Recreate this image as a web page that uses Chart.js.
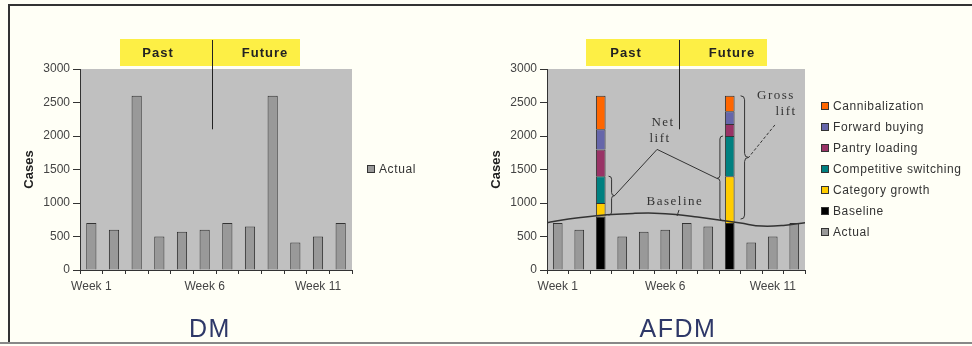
<!DOCTYPE html>
<html>
<head>
<meta charset="utf-8">
<script src="https://cdn.jsdelivr.net/npm/chart.js@4/dist/chart.umd.min.js"></script>
<style>
  body { margin: 0; background: #fffff6; width: 972px; height: 346px; overflow: hidden; position: relative; font-family: 'Liberation Sans', Arial, sans-serif; }
  #frame { position: absolute; left: 8px; top: 4px; width: 970px; height: 336px; border-top: 2px solid #333; border-left: 2px solid #333; }
  #bottomLine { position: absolute; left: 0; top: 342px; width: 972px; height: 2px; background: #888; }
  canvas { position: absolute; top: 0; }
  .legend { position: absolute; font-size: 12px; color: #333; letter-spacing: 0.6px; }
  .legend div { height: 21px; line-height: 21px; white-space: nowrap; }
  .legend span { display: inline-block; width: 6px; height: 6px; border: 1px solid #333; margin-right: 4px; vertical-align: 0px; }
  .name { position: absolute; top: 314px; font-size: 25px; color: #2e3868; letter-spacing: 1.5px; transform: translateX(-50%); }
</style>
</head>
<body>
<div id="frame"></div>
<div id="bottomLine"></div>
<canvas id="dmChart" width="480" height="346" style="left:0px"></canvas>
<canvas id="afdmChart" width="492" height="346" style="left:480px"></canvas>
<div class="legend" id="dmLegend" style="left:367px; top:159px"></div>
<div class="legend" id="afdmLegend" style="left:821px; top:96px"></div>
<div class="name" style="left:210px">DM</div>
<div class="name" style="left:678px">AFDM</div>
<script>
//! Les données.
const weekLabels = ['Week 1', 'Week 2', 'Week 3', 'Week 4', 'Week 5', 'Week 6',
  'Week 7', 'Week 8', 'Week 9', 'Week 10', 'Week 11', 'Week 12'];
const shownWeekLabels = ['Week 1', 'Week 6', 'Week 11'];

const actualDM = [700, 600, 2600, 500, 570, 600, 700, 650, 2600, 410, 500, 700];
const actualAFDM = [700, 600, null, 500, 570, 600, 700, 650, null, 410, 500, 700];

const baselineBar = [null, null, 800, null, null, null, null, null, 700, null, null, null];
const categoryGrowth = [null, null, 200, null, null, null, null, null, 700, null, null, null];
const competitiveSwitching = [null, null, 400, null, null, null, null, null, 600, null, null, null];
const pantryLoading = [null, null, 400, null, null, null, null, null, 180, null, null, null];
const forwardBuying = [null, null, 300, null, null, null, null, null, 190, null, null, null];
const cannibalization = [null, null, 500, null, null, null, null, null, 230, null, null, null];

// courbe de baseline (x = bord des semaines, 0..12)
const baselineCurveX = [0, 1, 2, 3, 4, 5, 6, 7, 8, 9, 10, 11, 12];
const baselineCurveY = [706, 760, 800, 830, 845, 848, 830, 790, 745, 700, 655, 665, 706];

const yMin = 0;
const yMax = 3000;
const yStep = 500;
//! ---------------------------------

//! Styles communs.
const sansFont = "'Liberation Sans', Arial, sans-serif";
const serifFont = "'Liberation Serif', 'Times New Roman', serif";
const actualColor = '#999999';
const edgeColor = '#333333';

const colors = {
  Baseline: '#000000',
  'Category growth': '#ffcc00',
  'Competitive switching': '#008080',
  'Pantry loading': '#993366',
  'Forward buying': '#6666aa',
  Cannibalization: '#ff6600',
  Actual: actualColor,
};
//! ---------------------------------

//! Plugins : fond gris, bandeau Past / Future.
const plotBackground = {
  id: 'plotBackground',
  beforeDraw(chart) {
    const { ctx, chartArea: a } = chart;
    ctx.save();
    ctx.fillStyle = '#c0c0c0';
    ctx.fillRect(a.left, a.top, a.right - a.left, a.bottom - a.top);
    ctx.restore();
  },
};

function headerPlugin(h) {
  return {
    id: 'header',
    afterDraw(chart) {
      const ctx = chart.ctx;
      ctx.save();
      ctx.fillStyle = '#fdef45';
      ctx.fillRect(h.left, 39, h.right - h.left, 27);
      ctx.fillStyle = '#222';
      ctx.font = 'bold 13px ' + sansFont;
      ctx.letterSpacing = '1px';
      ctx.textAlign = 'center';
      ctx.textBaseline = 'middle';
      ctx.fillText('Past', h.past, 53);
      ctx.fillText('Future', h.future, 53);
      ctx.strokeStyle = '#222';
      ctx.lineWidth = 1;
      ctx.beginPath();
      ctx.moveTo(h.line + 0.5, 40);
      ctx.lineTo(h.line + 0.5, chart.scales.y.getPixelForValue(2100));
      ctx.stroke();
      ctx.restore();
    },
  };
}
//! ---------------------------------

//! Annotations AFDM : accolades, Net lift, Gross lift, Baseline.
function brace(ctx, x, yTop, yBot, dir, w) {
  const mid = (yTop + yBot) / 2;
  const xi = x + dir * w;
  ctx.beginPath();
  ctx.moveTo(x, yTop);
  ctx.quadraticCurveTo(xi, yTop, xi, yTop + w);
  ctx.lineTo(xi, mid - w);
  ctx.quadraticCurveTo(xi, mid, xi + dir * w, mid);
  ctx.quadraticCurveTo(xi, mid, xi, mid + w);
  ctx.lineTo(xi, yBot - w);
  ctx.quadraticCurveTo(xi, yBot, x, yBot);
  ctx.stroke();
  return [xi + dir * w, mid];
}

const liftNotes = {
  id: 'liftNotes',
  afterDatasetsDraw(chart) {
    const { ctx } = chart;
    const xs = chart.scales.x;
    const ys = chart.scales.y;
    const P = (i, v) => [xs.getPixelForValue(i), ys.getPixelForValue(v)];
    const half = chart.getDatasetMeta(0).data[2].width / 2;

    ctx.save();
    ctx.strokeStyle = '#333';
    ctx.fillStyle = '#333';
    ctx.lineWidth = 1;

    const tip1 = brace(ctx, xs.getPixelForValue(2) + half + 3, ys.getPixelForValue(1400), ys.getPixelForValue(820), 1, 3);
    const tip2 = brace(ctx, xs.getPixelForValue(8) - half - 2, ys.getPixelForValue(2000), ys.getPixelForValue(735), -1, 3);
    const tip3 = brace(ctx, xs.getPixelForValue(8) + half + 6, ys.getPixelForValue(2600), ys.getPixelForValue(760), 1, 4);

    // Net lift
    const j = P(4.62, 1800);
    ctx.beginPath();
    ctx.moveTo(tip1[0], tip1[1]);
    ctx.lineTo(j[0], j[1]);
    ctx.lineTo(tip2[0], tip2[1]);
    ctx.stroke();

    // Gross lift (pointillés)
    const g = P(10.1, 2165);
    ctx.setLineDash([3, 2]);
    ctx.beginPath();
    ctx.moveTo(g[0], g[1]);
    ctx.lineTo(tip3[0], tip3[1]);
    ctx.stroke();
    ctx.setLineDash([]);

    // Baseline petit trait
    const b1 = P(5.64, 896);
    const b2 = P(5.55, 806);
    ctx.beginPath();
    ctx.moveTo(b1[0], b1[1]);
    ctx.lineTo(b2[0], b2[1]);
    ctx.stroke();

    ctx.font = '13px ' + serifFont;
    ctx.letterSpacing = '1.5px';
    ctx.textAlign = 'center';
    ctx.textBaseline = 'middle';
    const texts = [
      ['Net', 4.9, 2200],
      ['lift', 4.76, 1955],
      ['Gross', 10.15, 2600],
      ['lift', 10.62, 2363],
      ['Baseline', 5.45, 1015],
    ];
    texts.forEach(([t, i, v]) => {
      const p = P(i, v);
      ctx.fillText(t, p[0], p[1]);
    });
    ctx.restore();
  },
};
//! ---------------------------------

//! Les axes.
function makeScales(stacked) {
  return {
    x: {
      stacked,
      grid: { offset: true, drawOnChartArea: false, drawTicks: true, tickLength: 4, color: edgeColor },
      border: { color: edgeColor, width: 1 },
      ticks: {
        autoSkip: false,
        maxRotation: 0,
        padding: 5,
        color: '#444',
        font: { size: 12, family: sansFont },
        callback: function (value) {
          const l = this.getLabelForValue(value);
          return shownWeekLabels.includes(l) ? l : '';
        },
      },
      afterFit(scale) { scale.height = 30; },
    },
    y: {
      stacked,
      min: yMin,
      max: yMax,
      grid: { drawOnChartArea: false, drawTicks: true, tickLength: 7, color: edgeColor },
      border: { color: edgeColor, width: 1 },
      ticks: {
        stepSize: yStep,
        padding: 3,
        color: '#444',
        font: { size: 12, family: sansFont },
        callback: (v) => String(v),
      },
      title: { display: true, text: 'Cases', color: '#222', font: { size: 13, weight: 'bold', family: sansFont }, padding: { top: 2, bottom: 0 } },
      afterFit(scale) { scale.width = 60; },
    },
  };
}

function barSet(label, data) {
  return {
    type: 'bar',
    label,
    data,
    stack: 'weeks',
    grouped: false,
    backgroundColor: colors[label],
    borderColor: edgeColor,
    borderWidth: 1,
    categoryPercentage: 1,
    barPercentage: 0.45,
    order: 1,
  };
}
//! ---------------------------------

//! Graphique DM.
const dmChart = new Chart(document.getElementById('dmChart').getContext('2d'), {
  type: 'bar',
  data: { labels: weekLabels, datasets: [barSet('Actual', actualDM)] },
  options: {
    responsive: false,
    animation: false,
    layout: { padding: { left: 20, right: 128, top: 69, bottom: 46 } },
    plugins: { legend: { display: false }, tooltip: { enabled: false } },
    scales: makeScales(false),
  },
  plugins: [plotBackground, headerPlugin({ left: 120, right: 300, past: 158, future: 265, line: 212 })],
});
//! ---------------------------------

//! Graphique AFDM.
const afdmScales = makeScales(true);
afdmScales.xLine = { type: 'linear', display: false, offset: false, min: 0, max: 12 };

const afdmChart = new Chart(document.getElementById('afdmChart').getContext('2d'), {
  type: 'bar',
  data: {
    labels: weekLabels,
    datasets: [
      barSet('Baseline', baselineBar),
      barSet('Category growth', categoryGrowth),
      barSet('Competitive switching', competitiveSwitching),
      barSet('Pantry loading', pantryLoading),
      barSet('Forward buying', forwardBuying),
      barSet('Cannibalization', cannibalization),
      barSet('Actual', actualAFDM),
      {
        type: 'line',
        label: 'Baseline curve',
        xAxisID: 'xLine',
        data: baselineCurveX.map((x, i) => ({ x, y: baselineCurveY[i] })),
        borderColor: '#333',
        borderWidth: 1.5,
        pointRadius: 0,
        tension: 0.4,
        fill: false,
        order: 0,
      },
    ],
  },
  options: {
    responsive: false,
    animation: false,
    layout: { padding: { left: 7, right: 167, top: 69, bottom: 46 } },
    plugins: { legend: { display: false }, tooltip: { enabled: false } },
    scales: afdmScales,
  },
  plugins: [plotBackground, liftNotes, headerPlugin({ left: 106, right: 287, past: 146, future: 252, line: 199 })],
});
//! ---------------------------------

//! Les légendes.
function buildLegend(el, chart, order) {
  const sets = chart.data.datasets;
  el.innerHTML = order.map((name) => {
    const ds = sets.find((d) => d.label === name);
    return '<div><span style="background:' + ds.backgroundColor + '"></span>' + ds.label + '</div>';
  }).join('');
}
buildLegend(document.getElementById('dmLegend'), dmChart, ['Actual']);
buildLegend(document.getElementById('afdmLegend'), afdmChart,
  ['Cannibalization', 'Forward buying', 'Pantry loading', 'Competitive switching', 'Category growth', 'Baseline', 'Actual']);
//! ---------------------------------
</script>
</body>
</html>
